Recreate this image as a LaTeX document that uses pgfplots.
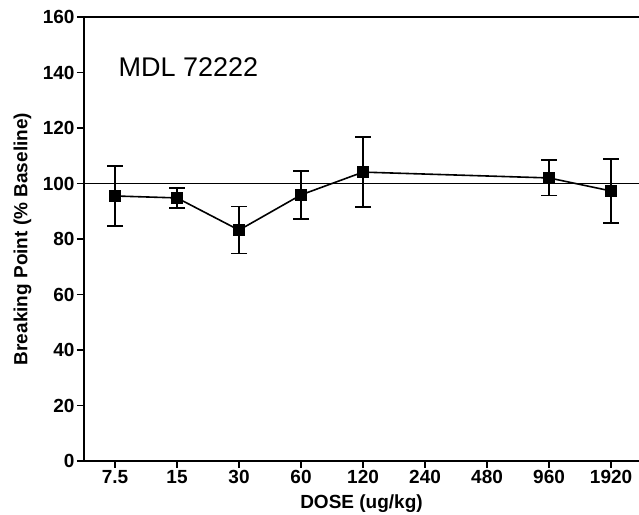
\documentclass[border=0pt]{standalone}
\usepackage{fontspec}
\setmainfont{Liberation Sans}
\usepackage{pgfplots}
\pgfplotsset{compat=1.18}
\usetikzlibrary{calc}

\begin{document}
\begin{tikzpicture}
\begin{axis}[
    name=ax,
    scale only axis,
    width=555pt,
    height=444pt,
    xmin=-0.5, xmax=8.45,
    ymin=0, ymax=160,
    axis x line*=bottom,
    axis y line*=left,
    axis line style={line width=1.8pt},
    xtick={0,1,2,3,4,5,6,7,8},
    xticklabels={7.5,15,30,60,120,240,480,960,1920},
    ytick={0,20,40,60,80,100,120,140,160},
    tick style={black, line width=1.2pt},
    tick align=outside,
    major tick length=7pt,
    /pgf/number format/assume math mode=true,
    ticklabel style={font=\bfseries\fontsize{19}{22}\selectfont},
    yticklabel style={xshift=1pt},
    xticklabel style={yshift=1pt},
    label style={font=\bfseries\fontsize{19}{22}\selectfont},
    xlabel={DOSE (ug/kg)},
    ylabel={Breaking Point (\% Baseline)},
    xlabel style={at={(axis description cs:0.5,0)}, anchor=north, inner sep=0pt, yshift=-34pt},
    ylabel style={at={(axis description cs:0,0.5)}, anchor=south, yshift=49pt},
    clip=false,
]
% top border
\draw[line width=1.5pt] (rel axis cs:0,1) -- (rel axis cs:1,1);
% baseline at 100 %
\draw[line width=1pt] (axis cs:-0.5,100) -- (axis cs:8.45,100);

\addplot[black, line width=1.6pt, mark=square*, mark size=5pt,
    error bars/.cd, y dir=both, y explicit,
    error bar style={line width=1.6pt},
    error mark options={rotate=90, mark size=8pt, line width=1.6pt}]
coordinates {
    (0,95.5) +- (0,10.8)
    (1,94.8) +- (0,3.6)
    (2,83.2) +- (0,8.5)
    (3,95.9) +- (0,8.6)
    (4,104.1) +- (0,12.6)
    (7,102.0) +- (0,6.4)
    (8,97.3) +- (0,11.5)
};

\node[anchor=west, font=\fontsize{27}{31}\selectfont] at (axis cs:0.0,142) {MDL 72222};
\end{axis}
% page = original's margins round the frame
\pgfresetboundingbox
\path ($(ax.south west)+(-84pt,-54pt)$) rectangle ($(ax.north east)+(0,17pt)$);
\end{tikzpicture}
\end{document}
